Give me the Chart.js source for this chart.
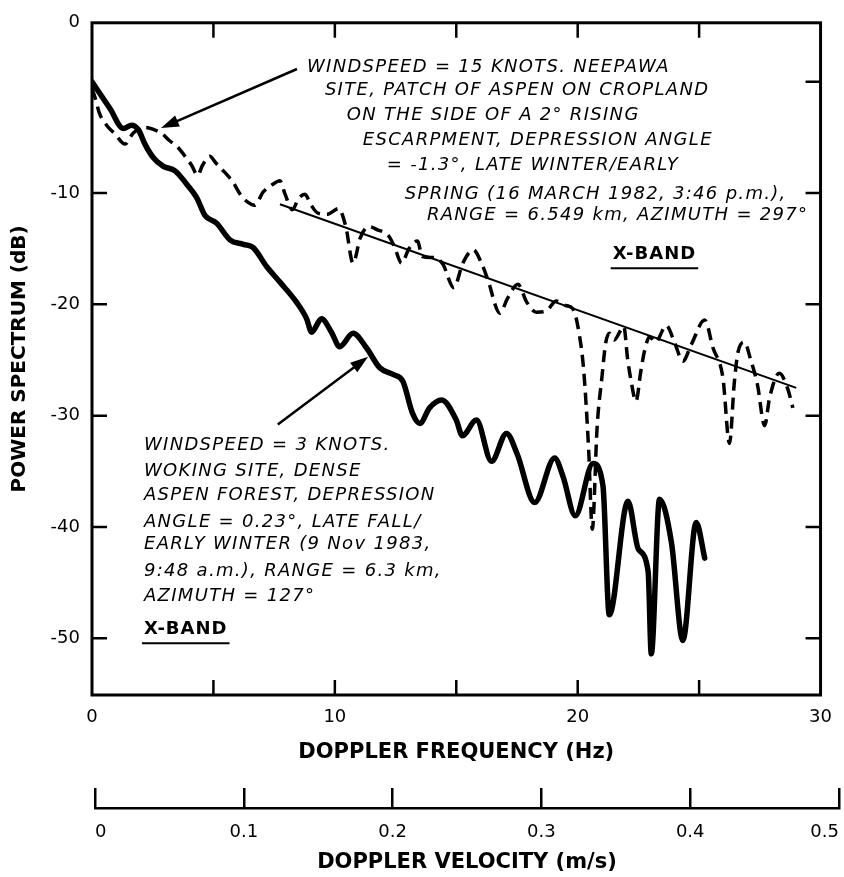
<!DOCTYPE html>
<html>
<head>
<meta charset="utf-8">
<script src="https://cdn.jsdelivr.net/npm/chart.js@4.4.0/dist/chart.umd.min.js"></script>
<style>
  html, body { margin: 0; padding: 0; background: #fff; }
  #wrap { position: relative; width: 844px; height: 877px; }
  #main { position: absolute; left: 0; top: 0; }
  #vel { position: absolute; left: 0; top: 775px; }
</style>
</head>
<body>
<div id="wrap">
  <canvas id="main" width="844" height="775"></canvas>
  <canvas id="vel" width="844" height="102"></canvas>
</div>
<script>
// Woking site, 3 knots (solid)
const woFreq = [0, 0.74, 1.29, 1.63, 1.91, 2.18, 2.52, 2.94, 3.42, 3.9, 4.31, 4.65, 5.13, 5.68, 6.23,
  6.64, 7.19, 7.74, 8.42, 8.84, 9.04, 9.45, 9.86, 10.2, 10.75, 11.3, 11.85, 12.4, 12.8, 13.2,
  13.5, 13.9, 14.4, 15.0, 15.25, 15.83, 16.45, 17.07, 17.5, 18.23, 19.05, 19.4, 19.9, 20.63, 21.04,
  21.3, 22.07, 22.5, 22.9, 23.03, 23.37, 23.86, 24.33, 24.88, 25.23];
const woPower = [0, -2.4, -4.2, -3.9, -4.3, -5.6, -6.8, -7.6, -8.0, -9.2, -10.4, -12.0, -12.7, -14.2, -14.6,
  -14.9, -16.6, -18.0, -19.8, -21.3, -22.5, -21.3, -22.5, -23.8, -22.6, -23.9, -25.7, -26.3, -26.9, -29.8,
  -30.7, -29.3, -28.6, -30.4, -31.8, -30.4, -34.1, -31.6, -33.4, -37.8, -33.8, -35.5, -39.0, -34.3, -36.3,
  -47.9, -37.7, -42.0, -44.0, -51.4, -37.5, -41.4, -50.2, -39.6, -42.8];

// Neepawa site, 15 knots (dashed)
const neFreq = [0, 0.15, 0.3, 0.6, 0.95, 1.36, 1.7, 2.2, 2.55, 2.85, 3.2, 3.5, 3.8, 4.1, 4.35,
  4.55, 4.85, 5.1, 5.45, 5.8, 6.1, 6.4, 6.7, 7.05, 7.45, 7.74, 7.95, 8.25, 8.5, 8.77,
  9.0, 9.3, 9.7, 10.15, 10.45, 10.75, 11.05, 11.4, 11.75, 12.2, 12.45, 12.75, 13.05, 13.4, 13.6,
  14.1, 14.45, 14.9, 15.27, 15.7, 16.04, 16.3, 16.8, 17.1, 17.54, 17.9, 18.3, 18.7, 19.12, 19.5,
  19.8, 20.05, 20.25, 20.45, 20.6, 20.8, 21.0, 21.15, 21.3, 21.5, 21.9, 22.05, 22.2, 22.4, 22.6,
  22.75, 22.96, 23.2, 23.65, 24.0, 24.33, 24.68, 25.23, 25.57, 25.98, 26.25, 26.45, 26.6, 26.87, 27.1,
  27.4, 27.7, 27.9, 28.3, 28.65, 28.86];
const nePower = [-0.6, -1.6, -2.8, -3.9, -4.7, -5.6, -4.6, -4.1, -4.3, -4.6, -5.3, -5.8, -6.6, -7.5, -8.4,
  -7.5, -6.7, -7.3, -8.1, -9.0, -10.1, -10.8, -11.1, -9.9, -9.2, -8.9, -10.1, -11.5, -10.5, -10.1,
  -11.0, -11.8, -11.9, -11.4, -13.0, -16.3, -14.0, -13.0, -13.3, -13.8, -14.8, -16.3, -15.0, -14.3, -15.7,
  -15.8, -16.4, -18.5, -16.3, -15.1, -16.3, -17.8, -20.8, -19.5, -18.2, -19.8, -20.7, -20.6, -19.7, -20.1,
  -20.4, -22.5, -26.0, -33.0, -40.2, -31.0, -26.5, -23.5, -22.6, -23.2, -22.0, -24.8, -26.9, -28.7, -26.0,
  -24.2, -22.9, -23.4, -21.9, -23.5, -25.1, -23.6, -21.4, -23.9, -26.6, -32.5, -27.0, -24.3, -23.4, -24.8,
  -27.2, -30.9, -28.4, -26.2, -27.6, -29.3];

// straight fit through the Neepawa spectrum
const fitFreq = [7.74, 29.0];
const fitPower = [-11.0, -27.5];

const dbTicks = [-10, -20, -30, -40, -50];
const velTicks = [0, 0.1, 0.2, 0.3, 0.4, 0.5];
const Y_MIN = -55.1, Y_MAX = 5.3;

const pts = (xs, ys) => xs.map((x, i) => ({ x: x, y: ys[i] }));

const FONT = 'DejaVu Sans';
const TICK = 15;

// notes: [text, freq, dB] of the left end of each line
const upperNote = [
  ['WINDSPEED = 15 KNOTS. NEEPAWA', 8.85, 1.3],
  ['SITE, PATCH OF ASPEN ON CROPLAND', 9.59, -0.8],
  ['ON THE SIDE OF A 2\u00B0 RISING', 10.49, -3.0],
  ['ESCARPMENT, DEPRESSION ANGLE', 11.15, -5.3],
  ['= -1.3\u00B0, LATE WINTER/EARLY', 12.14, -7.5],
  ['SPRING (16 MARCH 1982, 3:46 p.m.),', 12.88, -10.1],
  ['RANGE = 6.549 km, AZIMUTH = 297\u00B0', 13.79, -12.0]
];
const lowerNote = [
  ['WINDSPEED = 3 KNOTS.', 2.14, -32.7],
  ['WOKING SITE, DENSE', 2.14, -35.0],
  ['ASPEN FOREST, DEPRESSION', 2.14, -37.2],
  ['ANGLE = 0.23\u00B0, LATE FALL/', 2.14, -39.6],
  ['EARLY WINTER (9 Nov 1983,', 2.14, -41.6],
  ['9:48 a.m.), RANGE = 6.3 km,', 2.14, -44.0],
  ['AZIMUTH = 127\u00B0', 2.14, -46.2]
];
const bandLabels = [['X-BAND', 21.44, -15.5], ['X-BAND', 2.14, -49.2]];
// [fromFreq, fromDb, toFreq, toDb]
const arrows = [[8.44, 1.15, 2.84, -4.16], [7.65, -30.8, 11.37, -24.7]];

const frame = {
  id: 'frame',
  afterDatasetsDraw(chart) {
    const { ctx, chartArea: a, scales: { x, y } } = chart;
    ctx.save();
    ctx.strokeStyle = '#000';
    ctx.lineWidth = 3;
    ctx.strokeRect(a.left, a.top, a.right - a.left, a.bottom - a.top);
    ctx.lineWidth = 2.5;
    ctx.beginPath();
    x.ticks.forEach(t => {
      if (t.value <= x.min || t.value >= x.max) return;
      const px = x.getPixelForValue(t.value);
      ctx.moveTo(px, a.bottom); ctx.lineTo(px, a.bottom - TICK);
      ctx.moveTo(px, a.top); ctx.lineTo(px, a.top + TICK);
    });
    dbTicks.forEach(v => {
      const py = y.getPixelForValue(v);
      ctx.moveTo(a.left, py); ctx.lineTo(a.left + TICK, py);
    });
    [0, ...dbTicks].forEach(v => {
      const py = y.getPixelForValue(v);
      ctx.moveTo(a.right, py); ctx.lineTo(a.right - TICK, py);
    });
    ctx.stroke();
    ctx.restore();
  }
};

const notes = {
  id: 'notes',
  afterDraw(chart) {
    const { ctx, scales: { x, y } } = chart;
    ctx.save();
    ctx.fillStyle = '#000';
    ctx.strokeStyle = '#000';

    // arrows
    arrows.forEach(([f1, d1, f2, d2]) => {
      const x1 = x.getPixelForValue(f1), y1 = y.getPixelForValue(d1);
      const x2 = x.getPixelForValue(f2), y2 = y.getPixelForValue(d2);
      const ang = Math.atan2(y2 - y1, x2 - x1);
      ctx.lineWidth = 2.5;
      ctx.beginPath();
      ctx.moveTo(x1, y1);
      ctx.lineTo(x2 - 10 * Math.cos(ang), y2 - 10 * Math.sin(ang));
      ctx.stroke();
      ctx.beginPath();
      ctx.moveTo(x2, y2);
      ctx.lineTo(x2 - 18 * Math.cos(ang) + 6 * Math.sin(ang), y2 - 18 * Math.sin(ang) - 6 * Math.cos(ang));
      ctx.lineTo(x2 - 18 * Math.cos(ang) - 6 * Math.sin(ang), y2 - 18 * Math.sin(ang) + 6 * Math.cos(ang));
      ctx.closePath();
      ctx.fill();
    });

    // text blocks
    ctx.textAlign = 'left';
    ctx.textBaseline = 'middle';
    ctx.font = 'oblique 18px "' + FONT + '"';
    ctx.letterSpacing = '1.3px';
    upperNote.concat(lowerNote).forEach(([txt, f, d]) => {
      ctx.fillText(txt, x.getPixelForValue(f), y.getPixelForValue(d));
    });

    ctx.font = 'bold 18px "' + FONT + '"';
    ctx.letterSpacing = '1px';
    ctx.lineWidth = 2;
    bandLabels.forEach(([txt, f, d]) => {
      const px = x.getPixelForValue(f), py = y.getPixelForValue(d);
      ctx.fillText(txt, px, py);
      const w = ctx.measureText(txt).width;
      ctx.beginPath();
      ctx.moveTo(px - 2, py + 14);
      ctx.lineTo(px + w + 2, py + 14);
      ctx.stroke();
    });
    ctx.restore();
  }
};

const tickFont = { family: FONT, size: 18 };
const titleFont = { family: FONT, size: 21, weight: 'bold' };

new Chart(document.getElementById('main'), {
  type: 'line',
  data: {
    datasets: [
      {
        label: 'Woking, 3 knots',
        data: pts(woFreq, woPower),
        borderColor: '#000',
        borderWidth: 5.5,
        pointRadius: 0,
        cubicInterpolationMode: 'monotone',
        borderJoinStyle: 'round',
        borderCapStyle: 'round'
      },
      {
        label: 'Neepawa, 15 knots',
        data: pts(neFreq, nePower),
        borderColor: '#000',
        borderWidth: 3.5,
        borderDash: [12, 7],
        pointRadius: 0,
        cubicInterpolationMode: 'monotone'
      },
      {
        label: 'fit',
        data: pts(fitFreq, fitPower),
        borderColor: '#000',
        borderWidth: 2,
        pointRadius: 0
      }
    ]
  },
  options: {
    responsive: false,
    animation: false,
    events: [],
    layout: { padding: { top: 13, right: 23, left: 0, bottom: 0 } },
    plugins: { legend: { display: false }, tooltip: { enabled: false } },
    scales: {
      x: {
        type: 'linear',
        min: 0,
        max: 30,
        grid: { display: false, drawTicks: false },
        border: { display: false },
        ticks: {
          stepSize: 5,
          autoSkip: false,
          maxRotation: 0,
          padding: 12,
          color: '#000',
          font: tickFont,
          callback: v => (v % 10 === 0 ? String(v) : '')
        },
        title: {
          display: true,
          text: 'DOPPLER FREQUENCY (Hz)',
          color: '#000',
          font: titleFont,
          padding: { top: 4, bottom: 10 }
        },
        afterFit: s => { s.height = 80; }
      },
      y: {
        type: 'linear',
        min: Y_MIN,
        max: Y_MAX,
        grid: { display: false, drawTicks: false },
        border: { display: false },
        afterBuildTicks: s => { s.ticks = [...dbTicks, Y_MAX].map(v => ({ value: v })); },
        ticks: {
          padding: 12,
          color: '#000',
          font: tickFont,
          callback: v => (v === Y_MAX ? '0' : String(v))
        },
        title: {
          display: true,
          text: 'POWER SPECTRUM (dB)',
          color: '#000',
          font: { family: FONT, size: 20, weight: 'bold' },
          padding: { top: 8, bottom: 4 }
        },
        afterFit: s => { s.width = 92; }
      }
    }
  },
  plugins: [frame, notes]
});

new Chart(document.getElementById('vel'), {
  type: 'line',
  data: { datasets: [] },
  options: {
    responsive: false,
    animation: false,
    events: [],
    layout: { padding: { left: 95, right: 5, top: 13, bottom: 0 } },
    plugins: { legend: { display: false }, tooltip: { enabled: false } },
    scales: {
      x: {
        type: 'linear',
        position: 'bottom',
        min: 0,
        max: 0.5,
        afterBuildTicks: s => { s.ticks = velTicks.map(v => ({ value: v })); },
        grid: { drawOnChartArea: true, drawTicks: false, color: '#000', lineWidth: 2.5 },
        border: { display: true, color: '#000', width: 2.5 },
        ticks: {
          autoSkip: false,
          maxRotation: 0,
          align: 'inner',
          padding: 14,
          color: '#000',
          font: tickFont,
          callback: v => (v === 0 ? '0' : v.toFixed(1))
        },
        title: {
          display: true,
          text: 'DOPPLER VELOCITY (m/s)',
          color: '#000',
          font: titleFont,
          padding: { top: 2, bottom: 1.4 }
        },
        afterFit: s => { s.height = 69; s.paddingLeft = 0; s.paddingRight = 0; }
      },
      y: { display: false, min: 0, max: 1 }
    }
  }
});
</script>
</body>
</html>
